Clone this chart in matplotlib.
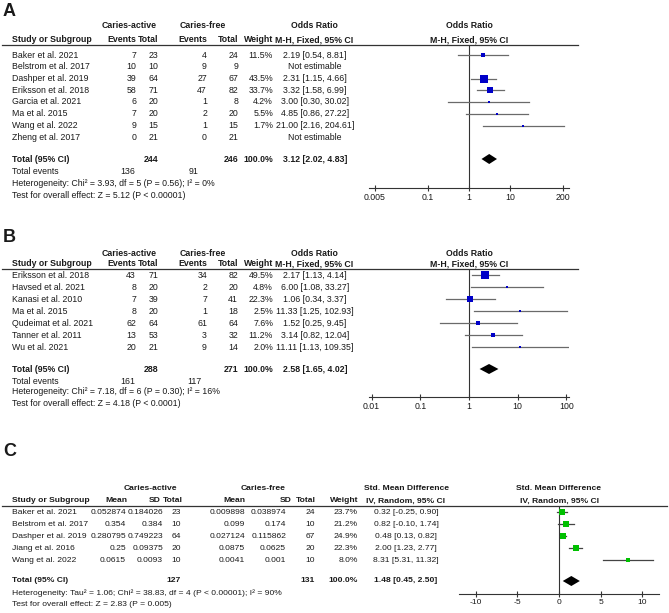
import matplotlib
matplotlib.use("Agg")
import matplotlib.pyplot as plt
from matplotlib.ticker import NullLocator

plt.rcParams['font.family'] = ['Liberation Sans', 'DejaVu Sans']

FS = 6.35      # panels A and B
FS_C = 6.1     # panel C table is a touch smaller
W, H = 669, 613
TXT = '#1a1a1a'

# ---------------- panel A : caries-active vs caries-free, odds ratio
a_studies = ["Baker et al. 2021", "Belstrom et al. 2017", "Dashper et al. 2019", "Eriksson et al. 2018",
             "Garcia et al. 2021", "Ma et al. 2015", "Wang et al. 2022", "Zheng et al. 2017"]
a_ev1 = [7, 10, 39, 58, 6, 7, 9, 0]
a_tot1 = [23, 10, 64, 71, 20, 20, 15, 21]
a_ev2 = [4, 9, 27, 47, 1, 2, 1, 0]
a_tot2 = [24, 9, 67, 82, 8, 20, 15, 21]
a_weight = [11.5, None, 43.5, 33.7, 4.2, 5.5, 1.7, None]
a_or = [2.19, None, 2.31, 3.32, 3.00, 4.85, 21.00, None]
a_lo = [0.54, None, 1.15, 1.58, 0.30, 0.86, 2.16, None]
a_hi = [8.81, None, 4.66, 6.99, 30.02, 27.22, 204.61, None]
a_total = [3.12, 2.02, 4.83]
a_n = [244, 246]
a_events = [136, 91]
a_het = "Heterogeneity: Chi² = 3.93, df = 5 (P = 0.56); I² = 0%"
a_test = "Test for overall effect: Z = 5.12 (P < 0.00001)"
a_ticks = [0.005, 0.1, 1, 10, 200]
a_ticklabels = ["0.005", "0.1", "1", "10", "200"]

# ---------------- panel B
b_studies = ["Eriksson et al. 2018", "Havsed et al. 2021", "Kanasi et al. 2010", "Ma et al. 2015",
             "Qudeimat et al. 2021", "Tanner et al. 2011", "Wu et al. 2021"]
b_ev1 = [43, 8, 7, 8, 62, 13, 20]
b_tot1 = [71, 20, 39, 20, 64, 53, 21]
b_ev2 = [34, 2, 7, 1, 61, 3, 9]
b_tot2 = [82, 20, 41, 18, 64, 32, 14]
b_weight = [49.5, 4.8, 22.3, 2.5, 7.6, 11.2, 2.0]
b_or = [2.17, 6.00, 1.06, 11.33, 1.52, 3.14, 11.11]
b_lo = [1.13, 1.08, 0.34, 1.25, 0.25, 0.82, 1.13]
b_hi = [4.14, 33.27, 3.37, 102.93, 9.45, 12.04, 109.35]
b_total = [2.58, 1.65, 4.02]
b_n = [288, 271]
b_events = [161, 117]
b_het = "Heterogeneity: Chi² = 7.18, df = 6 (P = 0.30); I² = 16%"
b_test = "Test for overall effect: Z = 4.18 (P < 0.0001)"
b_ticks = [0.01, 0.1, 1, 10, 100]
b_ticklabels = ["0.01", "0.1", "1", "10", "100"]

# ---------------- panel C : standardised mean difference
c_studies = ["Baker et al. 2021", "Belstrom et al. 2017", "Dashper et al. 2019", "Jiang et al. 2016", "Wang et al. 2022"]
c_mean1 = ["0.052874", "0.354", "0.280795", "0.25", "0.0615"]
c_sd1 = ["0.184026", "0.384", "0.749223", "0.09375", "0.0093"]
c_tot1 = [23, 10, 64, 20, 10]
c_mean2 = ["0.009898", "0.099", "0.027124", "0.0875", "0.0041"]
c_sd2 = ["0.038974", "0.174", "0.115862", "0.0625", "0.001"]
c_tot2 = [24, 10, 67, 20, 10]
c_weight = [23.7, 21.2, 24.9, 22.3, 8.0]
c_smd = [0.32, 0.82, 0.48, 2.00, 8.31]
c_lo = [-0.25, -0.10, 0.13, 1.23, 5.31]
c_hi = [0.90, 1.74, 0.82, 2.77, 11.32]
c_total = [1.48, 0.45, 2.50]
c_n = [127, 131]
c_het = "Heterogeneity: Tau² = 1.06; Chi² = 38.83, df = 4 (P < 0.00001); I² = 90%"
c_test = "Test for overall effect: Z = 2.83 (P = 0.005)"
c_ticks = [-10, -5, 0, 5, 10]
c_ticklabels = ["-10", "-5", "0", "5", "10"]

fig = plt.figure(figsize=(W / 100, H / 100), dpi=100)
bg = fig.add_axes([0, 0, 1, 1])
bg.set_xlim(0, W)
bg.set_ylim(H, 0)
bg.axis('off')


def txt(x, y, s, ha='left', bold=False, size=None):
    bg.text(x, y, s, ha=ha, va='center', fontsize=size or FS, color=TXT,
            fontweight='bold' if bold else 'normal')


def ci_text(e, lo, hi):
    if e is None:
        return "Not estimable"
    return f"{e:.2f} [{lo:.2f}, {hi:.2f}]"


def forest(left, width, top, bottom, xlim, log, ref, ticks, labels, ys, est, lo, hi, w, color, ci_color,
           ty, total, fs):
    ax = fig.add_axes([left / W, 1 - bottom / H, width / W, (bottom - top) / H])
    ax.patch.set_alpha(0)
    if log:
        ax.set_xscale('log')
    ax.set_xlim(xlim)
    ax.set_ylim(bottom, top)
    for s in ['top', 'right', 'left']:
        ax.spines[s].set_visible(False)
    ax.spines['bottom'].set_color('#333333')
    ax.spines['bottom'].set_linewidth(0.8)
    ax.set_yticks([])
    ax.set_xticks(ticks)
    ax.set_xticklabels(labels)
    ax.xaxis.set_minor_locator(NullLocator())
    ax.tick_params(axis='x', direction='inout', length=5, width=0.8, colors='#333333',
                   labelsize=fs, labelcolor=TXT, pad=1.0)
    ax.axvline(ref, color='#333333', lw=0.8)
    for y, e, l, h, wt in zip(ys, est, lo, hi, w):
        if e is None:
            continue
        ax.plot([l, h], [y, y], color=ci_color, lw=0.9)
        side = max(2.0, 1.1 * wt ** 0.5)
        ax.plot(e, y, marker='s', ms=side * 0.72, color=color, mec=color, mew=0)
    e, l, h = total
    ax.fill([l, e, h, e], [ty, ty - 5, ty, ty + 5], color='black', lw=0)
    return ax


def or_table(y0, label, hy1, hy2, line_y, rows_y, studies, ev1, tot1, ev2, tot2, weight, est, lo, hi,
             total_y, total, n, events_y, events, het_y, het, test_y, test):
    txt(3, y0, label, bold=True, size=13)
    txt(129, hy1, "Caries-active", ha='center', bold=True)
    txt(203, hy1, "Caries-free", ha='center', bold=True)
    txt(314, hy1, "Odds Ratio", ha='center', bold=True)
    txt(469, hy1, "Odds Ratio", ha='center', bold=True)
    txt(12, hy2, "Study or Subgroup", bold=True)
    txt(136, hy2, "Events", ha='right', bold=True)
    txt(158, hy2, "Total", ha='right', bold=True)
    txt(207, hy2, "Events", ha='right', bold=True)
    txt(238, hy2, "Total", ha='right', bold=True)
    txt(273, hy2, "Weight", ha='right', bold=True)
    txt(314, hy2, "M-H, Fixed, 95% CI", ha='center', bold=True)
    txt(469, hy2, "M-H, Fixed, 95% CI", ha='center', bold=True)
    bg.plot([2, 578], [line_y, line_y], color='#333333', lw=0.9)
    for y, s, a, b, c, d, wt, e, l, h in zip(rows_y, studies, ev1, tot1, ev2, tot2, weight, est, lo, hi):
        txt(12, y, s)
        txt(136, y, str(a), ha='right')
        txt(158, y, str(b), ha='right')
        txt(207, y, str(c), ha='right')
        txt(238, y, str(d), ha='right')
        if wt is not None:
            txt(273, y, f"{wt:.1f}%", ha='right')
        txt(315, y, ci_text(e, l, h), ha='center')
    txt(12, total_y, "Total (95% CI)", bold=True)
    txt(158, total_y, str(n[0]), ha='right', bold=True)
    txt(238, total_y, str(n[1]), ha='right', bold=True)
    txt(273, total_y, "100.0%", ha='right', bold=True)
    txt(315, total_y, ci_text(*total), ha='center', bold=True)
    txt(12, events_y, "Total events")
    txt(128, events_y, str(events[0]), ha='center')
    txt(194, events_y, str(events[1]), ha='center')
    txt(12, het_y, het)
    txt(12, test_y, test)


# ---------------- A
a_rows = [55 + 11.75 * i for i in range(len(a_studies))]
or_table(12, "A", 25, 40, 44.5, a_rows, a_studies, a_ev1, a_tot1, a_ev2, a_tot2, a_weight, a_or, a_lo, a_hi,
         159, a_total, a_n, 171, a_events, 183, a_het, 196, a_test)
forest(369, 200, 44.5, 188, (10 ** -2.445, 10 ** 2.445), True, 1, a_ticks, a_ticklabels,
       a_rows, a_or, a_lo, a_hi, a_weight, '#0000c8', '#6a6a6a', 159, a_total, FS)

# ---------------- B
b_rows = [275 + 12 * i for i in range(len(b_studies))]
or_table(237, "B", 253, 264, 268.5, b_rows, b_studies, b_ev1, b_tot1, b_ev2, b_tot2, b_weight, b_or, b_lo, b_hi,
         369, b_total, b_n, 381, b_events, 392, b_het, 404, b_test)
forest(369, 200, 268.5, 397, (10 ** -2.053, 10 ** 2.053), True, 1, b_ticks, b_ticklabels,
       b_rows, b_or, b_lo, b_hi, b_weight, '#0000c8', '#6a6a6a', 369, b_total, FS)

# ---------------- C
c_rows = [512 + 12 * i for i in range(len(c_studies))]
txt(3, 451, "C", bold=True, size=13)
txt(150, 489, "Caries-active", ha='center', bold=True, size=FS_C)
txt(263, 489, "Caries-free", ha='center', bold=True, size=FS_C)
txt(406, 489, "Std. Mean Difference", ha='center', bold=True, size=FS_C)
txt(559, 489, "Std. Mean Difference", ha='center', bold=True, size=FS_C)
txt(12, 501, "Study or Subgroup", bold=True, size=FS_C)
for x, s in [(127, "Mean"), (161, "SD"), (183, "Total"), (245, "Mean"), (292, "SD"), (316, "Total"), (358, "Weight")]:
    txt(x, 501, s, ha='right', bold=True, size=FS_C)
txt(406, 501, "IV, Random, 95% CI", ha='center', bold=True, size=FS_C)
txt(559, 501, "IV, Random, 95% CI", ha='center', bold=True, size=FS_C)
bg.plot([2, 667], [505.5, 505.5], color='#333333', lw=0.9)
for y, s, m1, s1, t1, m2, s2, t2, wt, e, l, h in zip(c_rows, c_studies, c_mean1, c_sd1, c_tot1, c_mean2, c_sd2,
                                                     c_tot2, c_weight, c_smd, c_lo, c_hi):
    txt(12, y, s, size=FS_C)
    txt(126, y, m1, ha='right', size=FS_C)
    txt(163, y, s1, ha='right', size=FS_C)
    txt(181, y, str(t1), ha='right', size=FS_C)
    txt(245, y, m2, ha='right', size=FS_C)
    txt(286, y, s2, ha='right', size=FS_C)
    txt(315, y, str(t2), ha='right', size=FS_C)
    txt(358, y, f"{wt:.1f}%", ha='right', size=FS_C)
    txt(406, y, ci_text(e, l, h), ha='center', size=FS_C)
txt(12, 581, "Total (95% CI)", bold=True, size=FS_C)
txt(181, 581, str(c_n[0]), ha='right', bold=True, size=FS_C)
txt(315, 581, str(c_n[1]), ha='right', bold=True, size=FS_C)
txt(358, 581, "100.0%", ha='right', bold=True, size=FS_C)
txt(406, 581, ci_text(*c_total), ha='center', bold=True, size=FS_C)
txt(12, 593, c_het, size=FS_C)
txt(12, 604, c_test, size=FS_C)
forest(459, 200, 505.5, 594, (-12, 12), False, 0, c_ticks, c_ticklabels,
       c_rows, c_smd, c_lo, c_hi, c_weight, '#00c000', '#444444', 581, c_total, FS_C)

fig.savefig("out.png", dpi=100)
